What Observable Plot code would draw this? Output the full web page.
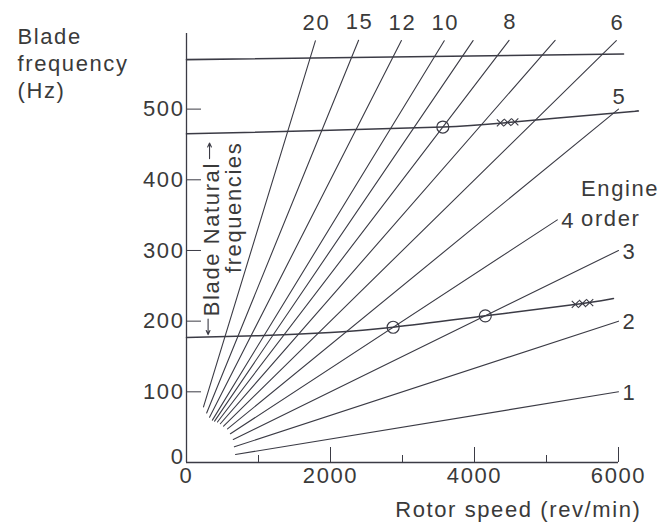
<!DOCTYPE html>
<html>
<head>
<meta charset="utf-8">
<script src="https://cdn.jsdelivr.net/npm/d3@7"></script>
<script src="https://cdn.jsdelivr.net/npm/@observablehq/plot@0.6"></script>
<style>
  html, body { margin: 0; padding: 0; background: #fff; }
</style>
</head>
<body>
<div id="chart"></div>
<script>
// Engine-order excitation lines: frequency = order × speed / 60
const orders   = [1, 2, 3, 4, 5, 6, 7, 8, 9, 10, 12, 15, 20];
const startRpm = [680, 665, 650, 610, 570, 515, 470, 430, 390, 360, 320, 280, 236];
const endRpm   = [6000, 6000, 6000, 5150, 6000, 5970, 5120, 4480, 3980, 3580, 2985, 2390, 1790];

// Blade natural frequency curves against rotor speed
const mode1Rpm = [0, 1000, 2000, 2870, 4150, 5500, 5930];
const mode1Hz  = [177, 179.5, 184, 191.3, 207.5, 225, 232];
const mode2Rpm = [0, 2000, 3560, 4450, 6000, 6230];
const mode2Hz  = [465, 470, 474.7, 481, 495, 497];
const mode3Rpm = [0, 6070];
const mode3Hz  = [570, 578];

// Resonance crossings (engine order, speed)
const resonanceOrder = [8, 4, 3];
const resonanceRpm   = [3560, 2870, 4150];

// Response points marked with crosses
const crossRpm = [4360, 4460, 4560, 5400, 5500, 5600];
const crossHz  = [480.5, 481.2, 482, 223.8, 225, 226.3];

// Which order lines carry a number
const topLabelOrders  = [20, 15, 12, 10, 8, 6];
const sideLabelOrders = [4, 3, 2, 1];

// Axis ticks
const xTickLabels = [0, 2000, 4000, 6000];
const xTicksMajor = [2000, 4000, 6000];
const xTicksMinor = [1000, 3000, 5000];
const yTickLabels = [100, 200, 300, 400, 500];

const ink = "#3b3b45";
const plain = d => String(d);

const orderLines = orders.flatMap((k, i) => [
  {order: k, rpm: startRpm[i], hz: k * startRpm[i] / 60},
  {order: k, rpm: endRpm[i],   hz: k * endRpm[i] / 60}
]);
const orderEnds = orders.map((k, i) => ({order: k, rpm: endRpm[i], hz: k * endRpm[i] / 60}));
const curve = (rpm, hz) => rpm.map((r, i) => ({rpm: r, hz: hz[i]}));
const mode1 = curve(mode1Rpm, mode1Hz);
const mode2 = curve(mode2Rpm, mode2Hz);
const mode3 = curve(mode3Rpm, mode3Hz);
const resonances = resonanceOrder.map((k, i) => ({rpm: resonanceRpm[i], hz: k * resonanceRpm[i] / 60}));
const crosses = curve(crossRpm, crossHz);

const chart = Plot.plot({
  width: 660,
  height: 525,
  marginLeft: 186,
  marginRight: 42,
  marginTop: 33,
  marginBottom: 63,
  x: {domain: [0, 6000], label: null},
  y: {domain: [0, 607], label: null},
  style: {
    fontFamily: "'Liberation Sans', Arial, sans-serif",
    fontSize: "22px",
    letterSpacing: "1.6px",
    color: "#3a3a3a",
    background: "white",
    overflow: "visible"
  },
  marks: [
    // frame axes
    Plot.ruleX([0], {stroke: ink, strokeWidth: 1.3}),
    Plot.ruleY([0], {stroke: ink, strokeWidth: 1.3}),
    // ticks pointing into the plot
    Plot.axisX(xTicksMajor, {tickSize: -15, tickFormat: () => "", label: null, stroke: ink}),
    Plot.axisX(xTicksMinor, {tickSize: -7, tickFormat: () => "", label: null, stroke: ink}),
    Plot.axisY(yTickLabels, {tickSize: -15, tickFormat: () => "", label: null, stroke: ink}),
    // tick labels
    Plot.axisX(xTickLabels, {tickSize: 0, tickPadding: 5, tickFormat: plain, label: null}),
    Plot.axisY(yTickLabels, {tickSize: 0, tickPadding: 2, tickFormat: plain, label: null}),
    Plot.axisY([0], {tickSize: 0, tickPadding: 2, dy: -6, tickFormat: plain, label: null}),

    // engine order lines
    Plot.line(orderLines, {x: "rpm", y: "hz", z: "order", stroke: ink, strokeWidth: 1.1}),

    // natural frequency curves
    Plot.line(mode1, {x: "rpm", y: "hz", curve: "natural", stroke: ink, strokeWidth: 1.5}),
    Plot.line(mode2, {x: "rpm", y: "hz", curve: "natural", stroke: ink, strokeWidth: 1.5}),
    Plot.line(mode3, {x: "rpm", y: "hz", stroke: ink, strokeWidth: 1.6}),

    // resonance circles and measured crosses
    Plot.dot(resonances, {x: "rpm", y: "hz", r: 6, stroke: ink, strokeWidth: 1.2, fill: "none"}),
    Plot.dot(crosses, {x: "rpm", y: "hz", symbol: "times", r: 3.3, stroke: ink, strokeWidth: 1.1}),

    // order numbers
    Plot.text(orderEnds.filter(d => topLabelOrders.includes(d.order)),
      {x: "rpm", y: "hz", text: "order", dy: -18, dx: 1}),
    Plot.text(orderEnds.filter(d => d.order === 5),
      {x: "rpm", y: "hz", text: "order", dy: -12, dx: 1}),
    Plot.text(orderEnds.filter(d => sideLabelOrders.includes(d.order)),
      {x: "rpm", y: "hz", text: "order", textAnchor: "start", dx: 4, dy: 1}),

    Plot.text(["Engine\norder"], {x: 5480, y: 335, textAnchor: "start", lineAnchor: "bottom", lineHeight: 1.36}),

    // natural frequency annotation: arrows point to the two lower curves
    Plot.arrow([{x: 300, y1: 203, y2: 181}, {x: 320, y1: 430, y2: 452}],
      {x: "x", y1: "y1", y2: "y2", stroke: ink, strokeWidth: 1.1, headLength: 6, headAngle: 50}),
    Plot.text(["Blade Natural"], {x: 350, y: 316, rotate: -90}),
    Plot.text(["frequencies"], {x: 653, y: 361, rotate: -90}),

    // axis titles
    Plot.text(["Blade\nfrequency\n(Hz)"], {frameAnchor: "top-left", textAnchor: "start", lineAnchor: "top", lineHeight: 1.23, dx: -169, dy: -9}),
    Plot.text(["Rotor speed (rev/min)"], {frameAnchor: "bottom-right", textAnchor: "end", lineAnchor: "bottom", dx: 23, dy: 54})
  ]
});

document.getElementById("chart").append(chart);
</script>
</body>
</html>
